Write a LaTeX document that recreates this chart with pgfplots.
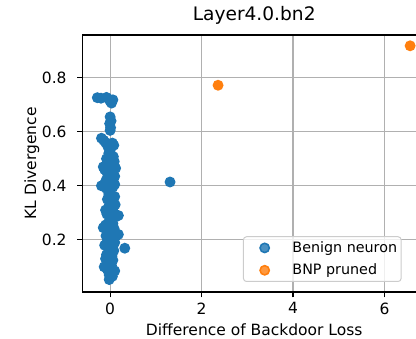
\documentclass[border=0pt]{standalone}
\usepackage{fontspec}
\setmainfont{DejaVu Sans}
\usepackage{pgfplots}
\pgfplotsset{compat=1.18}
\definecolor{mblue}{HTML}{1F77B4}
\definecolor{morange}{HTML}{FF7F0E}
\definecolor{mgrid}{HTML}{B0B0B0}
\definecolor{mleg}{HTML}{CCCCCC}
\pgfplotsset{legend image code/.code={%
  \path (0pt,0pt) (44pt,0pt);
  \draw[#1] plot coordinates {(18.7pt,0pt)};}}
\begin{document}
\begin{tikzpicture}
\useasboundingbox (0,0) rectangle (416pt,339pt);
\clip (0,0) rectangle (416pt,339pt);
\begin{axis}[
  at={(82.7pt,47pt)}, anchor=south west,
  scale only axis, width=343pt, height=257pt,
  xmin=-0.6, xmax=6.9, ymin=0.007, ymax=0.958,
  xtick={0,2,4,6}, ytick={0.2,0.4,0.6,0.8},
  /pgf/number format/assume math mode=true,
  tick align=outside, tick pos=left, major tick length=5.4pt,
  every tick/.style={black, line width=1.24pt},
  axis line style={line width=1.24pt},
  grid=major, grid style={mgrid, line width=1.24pt},
  tick label style={font=\fontsize{15.5}{18}\selectfont},
  xticklabel style={anchor=north, inner sep=0pt, yshift=-5pt},
  yticklabel style={anchor=east, inner sep=0pt, xshift=-10.5pt},
  label style={font=\fontsize{15.5}{18}\selectfont},
  title={Layer4.0.bn2},
  title style={font=\fontsize{18.6}{22}\selectfont, at={(axis description cs:0.5,1.033)}, anchor=base, inner sep=0pt, yshift=0pt},
  xlabel={Difference of Backdoor Loss},
  xlabel style={at={(axis description cs:0.5,-0.169)}, anchor=base, inner sep=0pt},
  ylabel={KL Divergence},
  ylabel style={at={(axis description cs:-0.136,0.5)}, anchor=base, inner sep=0pt},
  legend style={at={(rel axis cs:0.4673,0.039)}, anchor=south west, draw=mleg, line width=1pt,
    rounded corners=3pt, fill=white, fill opacity=0.8, text opacity=1,
    font=\fontsize{14.3}{17}\selectfont, row sep=6pt, inner xsep=2pt, inner ysep=3pt,
    nodes={inner sep=2pt}},
  legend cell align=left,
]
\addplot[only marks, mark=*, mark size=4.65pt, color=mblue, mark options={fill=mblue, draw=mblue, line width=1.55pt}] coordinates {
(-0.28,0.726) (-0.20,0.724) (-0.08,0.727) (0.00,0.713) (0.06,0.718) (0.03,0.706) (-0.02,0.72)
(0.00,0.655) (0.02,0.64) (-0.01,0.63) (0.01,0.615) (0.00,0.605)
(-0.19,0.576) (-0.14,0.568) (-0.10,0.56) (0.05,0.558) (0.08,0.55) (-0.05,0.545) (0.00,0.53)
(-0.03,0.52) (0.07,0.508) (0.02,0.50) (-0.08,0.50) (0.09,0.49) (-0.02,0.485) (0.05,0.475)
(-0.15,0.47) (-0.12,0.46) (0.12,0.465) (0.04,0.455) (-0.06,0.445) (0.10,0.435) (0.00,0.43)
(-0.09,0.42) (-0.04,0.42) (0.02,0.41) (-0.19,0.40) (-0.13,0.405) (0.10,0.405) (0.06,0.395)
(-0.08,0.39) (0.00,0.385) (-0.03,0.37) (0.04,0.36) (0.10,0.36) (-0.06,0.35) (0.02,0.345)
(0.05,0.33) (0.11,0.33) (-0.04,0.32) (-0.10,0.31) (0.01,0.31) (0.08,0.30) (-0.07,0.295)
(0.18,0.29) (0.12,0.285) (0.03,0.28) (-0.02,0.27) (0.06,0.26) (-0.10,0.255) (-0.15,0.245)
(0.00,0.245) (0.09,0.24) (-0.05,0.235) (0.03,0.225) (0.18,0.22) (0.13,0.215) (-0.09,0.215)
(0.00,0.21) (0.07,0.20) (-0.06,0.195) (0.10,0.19) (0.02,0.185) (-0.12,0.18) (0.05,0.175)
(0.32,0.169) (-0.03,0.165) (0.08,0.16) (0.00,0.15) (-0.08,0.145) (0.04,0.14) (-0.10,0.13)
(0.06,0.125) (0.00,0.12) (-0.05,0.11) (-0.13,0.10) (0.03,0.105) (0.10,0.085) (-0.06,0.09)
(0.02,0.08) (-0.02,0.07) (0.05,0.065) (-0.02,0.053) (0.00,0.06)
(1.31,0.414)
};
\addlegendentry{Benign neuron\hspace{16pt}}
\addplot[only marks, mark=*, mark size=4.65pt, color=morange, mark options={fill=morange, draw=morange, line width=1.55pt}] coordinates {
(2.36,0.772) (6.56,0.918)
};
\addlegendentry{BNP pruned}
\end{axis}
\end{tikzpicture}
\end{document}
